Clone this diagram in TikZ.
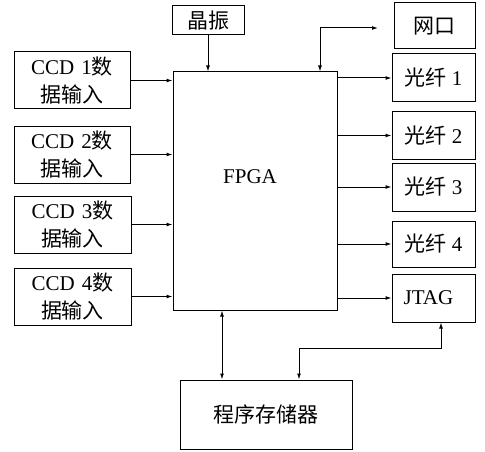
\documentclass[tikz,border=0pt]{standalone}
\usepackage{fontspec}
\setmainfont{Liberation Serif}
\newfontfamily\cjk{Noto Sans CJK SC}
\usetikzlibrary{arrows.meta}
\newcommand\zh[1]{{\cjk #1}}
\tikzset{
  blk/.style={draw, line width=1pt, inner sep=0pt, align=center,
    font=\fontsize{21}{28}\selectfont},
  conn/.style={line width=1pt, -{Latex[length=6pt,width=4pt]}},
  biconn/.style={line width=1pt, {Latex[length=6pt,width=4pt]}-{Latex[length=6pt,width=4pt]}}
}
\begin{document}
\begin{tikzpicture}[x=1pt,y=-1pt]
\useasboundingbox (0,0) rectangle (485,452);
% nodes
\node[blk, minimum width=72pt, minimum height=29pt] (jz) at (208,20.5) {\zh{晶振}};
\node[blk, minimum width=116pt, minimum height=57pt] (ccd1) at (72,80.5) {CCD\,\,1\zh{数}\\\zh{据输入}};
\node[blk, minimum width=116pt, minimum height=57pt] (ccd2) at (72,154.5) {CCD\,\,2\zh{数}\\\zh{据输入}};
\node[blk, minimum width=117pt, minimum height=57pt] (ccd3) at (72.5,224.5) {CCD\,\,3\zh{数}\\\zh{据输入}};
\node[blk, minimum width=117pt, minimum height=57pt] (ccd4) at (72.5,296.5) {CCD\,\,4\zh{数}\\\zh{据输入}};
\node[blk, minimum width=164pt, minimum height=238pt] (fpga) at (255,191) {};
\node[font=\fontsize{21}{28}\selectfont] (fpgat) at (250,177) {FPGA};
\node[blk, minimum width=81pt, minimum height=46pt] (wk) at (434.5,26) {\zh{网口}};
\node[blk, minimum width=83pt, minimum height=48pt] (g1) at (433.5,78) {\zh{光纤} 1};
\node[blk, minimum width=83pt, minimum height=47pt] (g2) at (433.5,135.5) {\zh{光纤} 2};
\node[blk, minimum width=83pt, minimum height=48pt] (g3) at (433.5,187) {\zh{光纤} 3};
\node[blk, minimum width=83pt, minimum height=46pt] (g4) at (433.5,244) {\zh{光纤} 4};
\node[blk, minimum width=83pt, minimum height=48pt] (jtag) at (433.5,298) {JTAG\hspace{10pt}};
\node[blk, minimum width=172pt, minimum height=69pt] (mem) at (266,414.5) {\zh{程序存储器}};
% helper coordinates
\coordinate (netbend) at (320,28);
\coordinate (netend) at (378,28);
\coordinate (memx) at (222,0);
\coordinate (jtagx) at (441,0);
\coordinate (jbend) at (441,348);
\coordinate (mbend) at (299,348);
% connectors
\draw[conn] (jz.south) -- (jz.south |- fpga.north);
\foreach \c in {ccd1,ccd2,ccd3,ccd4}
  \draw[conn] (\c.east) -- (\c.east -| fpga.west);
\foreach \g in {g1,g2,g3,g4,jtag}
  \draw[conn] (\g.west -| fpga.east) -- (\g.west);
\draw[biconn] (fpga.north -| netbend) -- (netbend) -- (netend);
\draw[biconn] (fpga.south -| memx) -- (mem.north -| memx);
\draw[biconn] (jtag.south -| jtagx) -- (jbend) -- (mbend) -- (mem.north -| mbend);
\end{tikzpicture}
\end{document}
